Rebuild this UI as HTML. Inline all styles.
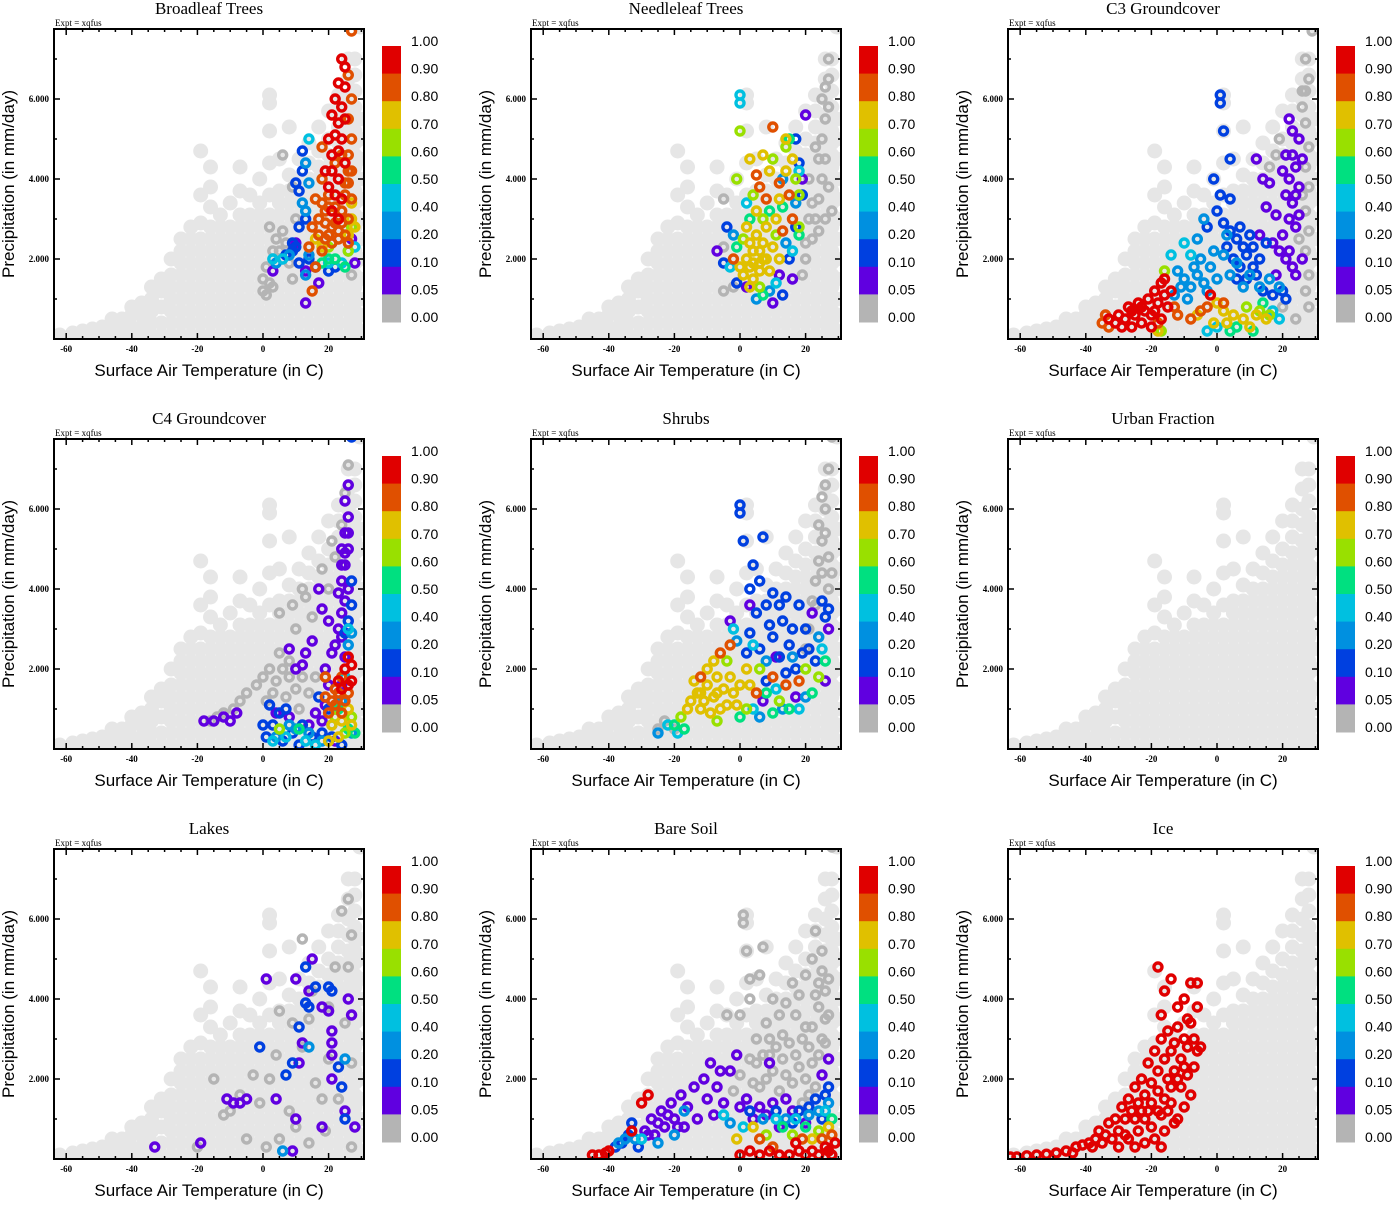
<!DOCTYPE html>
<html><head><meta charset="utf-8"><style>
html,body{margin:0;padding:0;background:#fff;}
svg text{font-family:"Liberation Sans",sans-serif;}
.serif{font-family:"Liberation Serif",serif;}
</style></head><body>
<svg id="chart" width="1393" height="1200" viewBox="0 0 1393 1200" xmlns="http://www.w3.org/2000/svg"></svg>
<script>
// ---- data ----
const panelTitles = ["Broadleaf Trees","Needleleaf Trees","C3 Groundcover","C4 Groundcover","Shrubs","Urban Fraction","Lakes","Bare Soil","Ice"];
const xTicks = [-60,-40,-20,0,20];
const xTickLabels = ["-60","-40","-20","0","20"];
const yTicks = [2,4,6];
const yTickLabels = ["2.000","4.000","6.000"];
const cbLabels = ["1.00","0.90","0.80","0.70","0.60","0.50","0.40","0.20","0.10","0.05","0.00"];
const cbThresholds = [0.9,0.8,0.7,0.6,0.5,0.4,0.2,0.1,0.05,0];
const cbColors = ["#e00000","#e05000","#e0c000","#99e000","#00e080","#00c0e0","#0090e0","#0040e0","#6000e0","#b4b4b4"];
// background cloud: temperature columns and precipitation values
const bgT = [-62,-58,-55,-52,-49,-46,-43,-40,-37,-34,-31,-28,-25,-22,-19,-16,-13,-10,-7,-4,-1,2,5,8,11,14,17,20,23,26,28,29.5];
const bgP = [
[0.05,0.1],[0.05,0.15],[0.1,0.2],[0.1,0.25],[0.1,0.3],[0.1,0.3,0.5],[0.1,0.3,0.5],[0.1,0.3,0.6,0.8],
[0.1,0.3,0.6,0.9],[0.1,0.4,0.7,1.0,1.3],[0.1,0.4,0.8,1.2,1.5],[0.1,0.4,0.7,1.0,1.3,1.6,2.0],
[0.1,0.4,0.7,1.0,1.3,1.6,1.9,2.2,2.5],[0.1,0.4,0.7,1.0,1.3,1.6,1.9,2.2,2.5,2.8],
[0.1,0.4,0.7,1.0,1.3,1.6,1.9,2.2,2.5,2.9,3.6,4.7],[0.1,0.4,0.7,1.0,1.3,1.6,1.9,2.2,2.5,2.8,3.3,3.8,4.3],
[0.1,0.4,0.7,1.0,1.3,1.6,1.9,2.2,2.5,2.8,3.1],[0.1,0.4,0.7,1.0,1.3,1.6,1.9,2.2,2.5,2.8,3.4],
[0.1,0.4,0.7,1.0,1.3,1.6,1.9,2.2,2.5,2.8,3.1,3.7,4.3],[0.1,0.4,0.7,1.0,1.3,1.6,1.9,2.2,2.5,2.8,3.1,3.6],
[0.1,0.4,0.7,1.0,1.3,1.6,1.9,2.2,2.5,2.8,3.1,3.4,4.0],[0.1,0.4,0.7,1.0,1.3,1.6,1.9,2.2,2.5,2.8,3.1,3.6,4.4,5.2,5.9,6.1],
[0.1,0.4,0.7,1.0,1.3,1.6,1.9,2.2,2.5,2.8,3.1,3.4,3.7,4.5],[0.1,0.4,0.7,1.0,1.3,1.6,1.9,2.2,2.5,2.8,3.1,3.4,3.7,4.1,5.3],
[0.1,0.4,0.7,1.0,1.3,1.6,1.9,2.2,2.5,2.8,3.1,3.4,3.7,4.0,4.5],[0.1,0.4,0.7,1.0,1.3,1.6,1.9,2.2,2.5,2.8,3.1,3.4,3.7,4.0,4.4,4.9],
[0.1,0.4,0.7,1.0,1.3,1.6,1.9,2.2,2.5,2.8,3.1,3.4,3.7,4.0,4.3,4.7,5.3],[0.1,0.4,0.7,1.0,1.3,1.6,1.9,2.2,2.5,2.8,3.1,3.4,3.7,4.0,4.3,4.6,5.0,5.7],
[0.1,0.4,0.7,1.0,1.3,1.6,1.9,2.2,2.5,2.8,3.1,3.4,3.7,4.0,4.3,4.6,4.9,5.3,5.7,6.1],[0.1,0.4,0.7,1.0,1.3,1.6,1.9,2.2,2.5,2.8,3.1,3.4,3.7,4.0,4.3,4.6,4.9,5.2,5.6,6.0,6.5,7.0],
[0.1,0.4,0.7,1.0,1.3,1.6,1.9,2.2,2.5,2.8,3.1,3.4,3.7,4.0,4.3,4.6,4.9,5.2,5.5,5.8,6.2,6.6,7.0],[0.2,0.6,1.0,1.5,2.0,2.5,3.0,3.5,4.0,4.5,5.0,5.5,7.8]
];
// panel points: [temperature, precipitation, fraction]
const broadleafPts = [
[24,7.0,.95],[25,6.8,.95],[23,6.4,.95],[25,6.3,.95],[22,6.0,.95],[24,5.8,.95],[21,5.6,.95],[23,5.4,.95],[25,5.5,.95],[20,5.0,.95],[22,5.1,.95],[24,5.0,.95],[21,4.6,.95],[23,4.7,.95],[25,4.4,.95],[19,4.2,.95],[21,4.2,.95],[23,4.0,.95],[20,3.8,.95],[22,3.6,.95],[24,3.5,.95],[21,3.2,.95],[23,3.0,.95],
[27,7.7,.85],[26,6.6,.85],[27,6.0,.85],[26,5.5,.85],[27,5.0,.85],[26,4.6,.85],[27,4.2,.85],[18,4.8,.85],[26,3.9,.85],[25,3.6,.85],[27,3.5,.85],[16,3.5,.85],[18,3.4,.85],[20,3.3,.85],[24,3.2,.85],[26,3.0,.85],[17,3.0,.85],[19,2.9,.85],[21,2.8,.85],[23,2.7,.85],[25,2.6,.85],[15,2.8,.85],[17,2.6,.85],[19,2.5,.85],[21,2.4,.85],[23,2.5,.85],[14,2.3,.85],[18,2.2,.85],[16,1.8,.85],[15,1.2,.85],[26,2.4,.85],[20,3.6,.85],[22,4.4,.85],[18,4.0,.85],[24,4.6,.85],[26,4.2,.85],[25,3.9,.85],[20,2.6,.85],[22,2.9,.85],[19,3.2,.85],[22,3.3,.85],[24,2.9,.85],
[27,3.4,.75],[27,3.0,.75],[28,2.8,.75],[26,2.6,.75],[16,2.5,.75],[18,2.3,.75],
[27,2.8,.65],[26,2.2,.65],[20,2.3,.65],
[22,2.0,.55],[18,1.9,.55],[25,1.8,.55],[20,2.0,.55],
[14,5.0,.45],[28,2.3,.45],[26,2.2,.45],[20,1.9,.45],[24,1.9,.45],[6,2.0,.45],[3,2.0,.45],
[13,4.4,.3],[14,3.9,.3],[12,3.4,.3],[13,3.2,.3],[14,2.1,.3],[13,1.6,.3],[4,1.9,.3],[8,2.1,.3],
[12,4.7,.15],[12,4.2,.15],[10,3.9,.15],[11,3.7,.15],[13,3.0,.15],[11,2.8,.15],[9,2.4,.15],[10,2.3,.15],[7,2.1,.15],[11,1.9,.15],[9,2.2,.15],[14,2.0,.15],[20,1.7,.15],[22,1.8,.15],[16,1.8,.15],
[13,0.9,.07],[3,1.7,.07],[10,2.4,.07],[13,1.7,.07],[17,1.4,.07],[28,1.9,.07],[27,2.5,.07],
[2,2.8,0],[3,2.2,0],[1,1.8,0],[0,1.5,0],[2,1.4,0],[0,1.2,0],[1,1.1,0],[3,1.3,0],[4,2.5,0],[5,2.2,0],[6,2.7,0],[7,2.4,0],[8,1.9,0],[9,1.5,0],[10,3.0,0],[9,3.8,0],[6,4.6,0],[27,1.6,0]
];
const needleleafPts = [
[20,2.0,0],[22,2.5,0],[23,3.0,0],[24,3.5,0],[25,4.0,0],[24,4.5,0],[25,5.0,0],[26,5.5,0],[25,6.0,0],[27,6.5,0],[27,7.0,0],[26,6.3,0],[22,3.4,0],[21,4.0,0],[23,4.8,0],[26,4.5,0],[27,3.8,0],[28,3.2,0],[26,3.0,0],[24,2.7,0],[21,3.0,0],[20,2.4,0],[19,1.6,0],[-2,1.3,0],[-5,1.2,0],[27,5.8,0],[-5,3.5,0],[-5,2.3,0],
[0,1.8,.75],[2,2.0,.75],[4,1.9,.75],[6,2.2,.75],[8,2.0,.75],[3,2.4,.75],[5,2.6,.75],[7,2.4,.75],[1,1.6,.75],[4,1.5,.75],[6,1.7,.75],[9,1.7,.75],[10,2.3,.75],[2,2.8,.75],[8,2.8,.75],[11,3.0,.75],[12,3.5,.75],[5,3.2,.75],[14,4.2,.75],[9,4.2,.75],[16,4.5,.75],[12,2.0,.75],[3,1.3,.75],[4,2.2,.75],[6,1.9,.75],[7,2.0,.75],[3,1.8,.75],[14,5.0,.75],[7,4.6,.75],[3,4.5,.75],
[10,5.3,.85],[6,3.8,.85],[12,3.9,.85],[15,3.6,.85],[8,3.5,.85],[13,2.7,.85],[16,3.0,.85],[-2,2.0,.85],[5,4.1,.85],
[10,4.5,.65],[14,4.8,.65],[4,3.6,.65],[7,3.0,.65],[17,4.0,.65],[11,2.6,.65],[1,2.5,.65],[6,1.3,.65],[0,5.2,.65],[-1,4.0,.65],[18,2.8,.65],[18,3.6,.65],
[15,5.0,.55],[3,3.0,.55],[9,3.2,.55],[13,3.3,.55],[-1,2.3,.55],[18,2.6,.55],[7,1.1,.55],
[0,6.1,.45],[0,5.9,.45],[18,4.2,.45],[2,3.4,.45],[16,2.2,.45],[-3,1.8,.45],[11,1.4,.45],
[13,4.0,.3],[17,3.4,.3],[-2,2.6,.3],[14,2.4,.3],[5,1.0,.3],[9,1.2,.3],
[17,5.0,.15],[18,4.4,.15],[19,3.6,.15],[17,2.8,.15],[15,2.0,.15],[-1,1.4,.15],[13,1.1,.15],[-5,1.9,.15],[-4,2.8,.15],
[20,5.6,.07],[19,4.0,.07],[16,1.5,.07],[10,0.9,.07],[2,1.3,.07],[12,1.6,.07],[-7,2.2,.07]
];
const c3Pts = [
[27,7.0,0],[28,6.5,0],[27,6.2,0],[26,5.8,0],[27,5.4,0],[28,4.8,0],[27,4.3,0],[28,3.8,0],[27,3.2,0],[28,2.7,0],[27,2.2,0],[28,1.6,0],[27,1.2,0],[28,0.8,0],[24,0.5,0],[20,0.8,0],[16,4.3,0],[18,4.6,0],[19,5.0,0],[26,6.2,0],[29,7.7,0],[26,3.6,0],[25,2.5,0],
[-33,0.5,.95],[-31,0.4,.95],[-30,0.6,.95],[-28,0.5,.95],[-27,0.8,.95],[-25,0.6,.95],[-24,0.9,.95],[-22,0.7,.95],[-21,1.0,.95],[-20,0.6,.95],[-19,1.2,.95],[-18,0.9,.95],[-17,1.4,.95],[-16,1.1,.95],[-15,0.8,.95],[-29,0.3,.95],[-26,0.3,.95],[-23,0.4,.95],[-20,0.3,.95],[-17,0.5,.95],[-14,1.2,.95],[-16,1.5,.95],[-2,1.1,.95],[-23,0.8,.95],[-19,0.7,.95],[-26,0.7,.95],
[-35,0.4,.85],[-33,0.3,.85],[-34,0.6,.85],[-13,0.8,.85],[-12,0.6,.85],[-5,0.7,.85],[-3,0.8,.85],[-8,0.5,.85],[2,0.9,.85],[-18,0.4,.85],
[-18,0.2,.75],[-6,0.6,.75],[0,0.9,.75],[2,0.7,.75],[5,0.6,.75],[-1,0.4,.75],[3,0.4,.75],[8,0.5,.75],[12,0.6,.75],[15,0.5,.75],[10,0.3,.75],
[-16,1.7,.65],[-17,0.2,.65],[9,0.8,.65],[13,0.7,.65],[16,0.6,.65],
[6,0.3,.55],[11,0.2,.55],[14,0.9,.55],[4,0.2,.55],
[-14,2.1,.45],[-10,2.4,.45],[-8,2.1,.45],[0,0.3,.45],[-3,0.2,.45],[17,0.7,.45],[19,0.5,.45],
[-12,1.7,.3],[-10,1.5,.3],[-8,1.3,.3],[-6,1.6,.3],[-4,1.4,.3],[-2,1.8,.3],[0,1.5,.3],[-13,1.1,.3],[-9,1.0,.3],[-7,1.8,.3],[-5,2.0,.3],[-11,1.3,.3],[2,2.1,.3],[4,1.6,.3],[6,1.9,.3],[8,1.3,.3],[10,1.6,.3],[-3,1.2,.3],[13,1.3,.3],[-6,2.5,.3],[3,2.6,.3],[-4,3.0,.3],[16,1.5,.3],[19,1.3,.3],[-1,2.2,.3],
[1,6.1,.15],[1,5.9,.15],[2,5.2,.15],[4,4.5,.15],[-1,4.0,.15],[1,3.6,.15],[4,3.5,.15],[0,3.2,.15],[-3,2.8,.15],[2,2.9,.15],[4,2.7,.15],[6,2.5,.15],[8,2.3,.15],[3,2.3,.15],[5,2.0,.15],[7,1.8,.15],[9,2.1,.15],[11,2.3,.15],[13,2.0,.15],[10,2.6,.15],[12,1.6,.15],[14,1.2,.15],[7,2.8,.15],[9,1.5,.15],[17,1.1,.15],[20,1.2,.15],[15,2.4,.15],[21,1.0,.15],[6,1.5,.15],[11,1.8,.15],
[22,5.5,.07],[23,5.2,.07],[21,4.6,.07],[20,4.2,.07],[22,4.0,.07],[24,4.3,.07],[25,3.8,.07],[21,3.6,.07],[23,3.4,.07],[25,3.1,.07],[22,3.0,.07],[24,2.8,.07],[20,2.6,.07],[18,3.1,.07],[16,3.9,.07],[14,4.0,.07],[12,4.5,.07],[15,3.3,.07],[13,2.6,.07],[17,2.4,.07],[19,2.2,.07],[21,2.0,.07],[23,1.8,.07],[18,1.6,.07],[24,1.6,.07],[26,2.0,.07],[26,4.5,.07],[25,5.0,.07],[22,2.2,.07],[23,4.6,.07],[24,3.6,.07]
];
const c4Pts = [
[0,1.8,0],[-2,1.6,0],[-5,1.4,0],[-7,1.2,0],[-9,1.0,0],[-12,0.9,0],[-14,0.8,0],[-16,0.7,0],[2,2.0,0],[4,1.7,0],[6,2.0,0],[8,1.8,0],[10,1.5,0],[12,1.8,0],[14,1.4,0],[16,1.8,0],[3,1.4,0],[7,1.3,0],[11,1.0,0],[5,3.4,0],[9,3.6,0],[10,3.0,0],[13,3.8,0],[15,3.3,0],[12,4.0,0],[18,4.5,0],[20,4.0,0],[22,4.8,0],[21,5.2,0],[24,5.6,0],[26,7.1,0],[25,6.4,0],[5,2.4,0],[1,1.2,0],[8,2.2,0],
[26,6.6,.07],[25,6.2,.07],[26,5.8,.07],[25,5.4,.07],[24,5.0,.07],[25,4.6,.07],[24,4.2,.07],[23,3.9,.07],[25,3.7,.07],[24,3.4,.07],[23,3.0,.07],[22,2.6,.07],[21,2.4,.07],[24,2.8,.07],[26,4.0,.07],[20,3.2,.07],[18,3.5,.07],[17,4.0,.07],[15,2.7,.07],[13,2.4,.07],[10,2.0,.07],[8,2.5,.07],[12,2.1,.07],[19,2.0,.07],[20,1.6,.07],[19,1.1,.07],[16,0.9,.07],[14,0.6,.07],[18,0.7,.07],[-18,0.7,.07],[-15,0.7,.07],[-12,0.8,.07],[-10,0.7,.07],[-8,0.9,.07],[4,0.9,.07],[8,0.8,.07],[22,0.2,.07],[25,2.3,.07],[26,5.0,.07],[24,1.6,.07],[25,4.9,.07],[24,4.6,.07],[26,5.4,.07],
[27,7.8,.15],[27,4.2,.15],[27,3.6,.15],[26,3.2,.15],[25,2.9,.15],[2,1.1,.15],[3,0.6,.15],[5,0.9,.15],[7,1.0,.15],[0,0.6,.15],[9,0.4,.15],[12,0.6,.15],[15,0.3,.15],[18,0.4,.15],[21,0.3,.15],[24,0.1,.15],[1,0.3,.15],[6,0.2,.15],[11,0.1,.15],[17,1.3,.15],[20,1.0,.15],
[27,2.9,.3],[26,2.6,.3],[24,1.2,.3],[22,1.0,.3],[10,0.5,.3],[14,0.4,.3],[18,0.2,.3],[27,0.4,.3],[4,0.3,.3],[8,0.6,.3],
[26,3.0,.45],[25,1.8,.45],[3,0.2,.45],[7,0.3,.45],[13,0.2,.45],[16,0.1,.45],[21,0.6,.45],
[23,1.0,.55],[26,0.5,.55],[28,0.4,.55],[11,0.5,.55],
[5,0.5,.65],[22,0.8,.65],[27,0.8,.65],[25,0.4,.65],
[21,0.6,.75],[24,0.7,.75],[26,1.0,.75],[27,0.6,.75],[23,0.3,.75],[20,0.2,.75],
[19,1.3,.85],[21,1.2,.85],[23,1.4,.85],[25,1.2,.85],[20,0.9,.85],[22,1.1,.85],[24,0.9,.85],[26,1.4,.85],[24,1.8,.85],[22,1.5,.85],[19,1.8,.85],
[26,2.3,.95],[27,2.1,.95],[25,2.0,.95],[26,1.6,.95],[24,1.5,.95],[23,1.7,.95],[27,1.7,.95]
];
const shrubPts = [
[-25,0.5,0],[-23,0.7,0],[-20,0.5,0],[20,2.5,0],[21,3.0,0],[22,3.7,0],[23,4.2,0],[24,4.7,0],[25,5.2,0],[24,5.6,0],[26,6.0,0],[26,6.6,0],[27,7.0,0],[25,4.4,0],[27,4.8,0],[27,4.0,0],[28,4.4,0],[23,3.6,0],[24,2.8,0],[28,7.8,0],[25,6.3,0],[26,5.4,0],
[-15,1.2,.75],[-13,1.4,.75],[-11,1.2,.75],[-10,1.6,.75],[-8,1.3,.75],[-7,1.8,.75],[-5,1.5,.75],[-4,1.1,.75],[-2,1.4,.75],[-12,1.0,.75],[-9,0.9,.75],[-6,1.0,.75],[-3,1.8,.75],[0,1.6,.75],[-14,1.7,.75],[-10,2.0,.75],[-1,1.1,.75],[3,1.6,.75],[-16,1.0,.75],[-8,2.2,.75],[2,2.0,.75],[-12,1.4,.75],[-7,1.4,.75],
[-12,1.8,.85],[-6,2.4,.85],[5,1.4,.85],[10,1.8,.85],[-3,2.6,.85],[14,1.6,.85],[18,1.7,.85],
[-18,0.8,.65],[-7,0.7,.65],[2,1.0,.65],[6,2.0,.65],[12,1.2,.65],[20,2.0,.65],[24,1.8,.65],[-4,2.2,.65],
[-20,0.6,.55],[-17,0.5,.55],[0,0.8,.55],[8,1.4,.55],[15,1.0,.55],[22,1.4,.55],[26,2.2,.55],[10,0.9,.55],
[-22,0.6,.45],[-19,0.4,.45],[4,1.0,.45],[11,1.5,.45],[18,1.0,.45],[25,2.5,.45],[-2,3.0,.45],[4,2.6,.45],
[-25,0.4,.3],[6,0.8,.3],[13,1.0,.3],[20,1.3,.3],[24,2.8,.3],[8,2.2,.3],[16,2.3,.3],[-1,2.7,.3],
[0,6.1,.15],[0,5.9,.15],[1,5.2,.15],[7,5.3,.15],[4,4.6,.15],[3,4.0,.15],[6,4.2,.15],[8,3.6,.15],[10,3.9,.15],[12,3.6,.15],[14,3.8,.15],[5,3.4,.15],[9,3.1,.15],[13,3.2,.15],[16,3.0,.15],[18,3.6,.15],[20,3.0,.15],[3,2.9,.15],[6,2.5,.15],[10,2.8,.15],[12,2.3,.15],[15,2.6,.15],[17,2.0,.15],[19,2.4,.15],[21,2.5,.15],[23,2.2,.15],[26,3.3,.15],[25,3.7,.15],[27,3.5,.15],[2,2.4,.15],[8,1.7,.15],[14,1.9,.15],
[3,3.6,.07],[27,3.0,.07],[22,3.4,.07],[11,2.3,.07],[7,1.2,.07],[17,1.3,.07],[26,1.7,.07],[-3,3.2,.07]
];
const urbanPts = [];
const lakePts = [
[-15,2.0,0],[-10,1.2,0],[-7,1.6,0],[-3,2.1,0],[-1,1.4,0],[2,2.0,0],[4,2.6,0],[5,3.7,0],[9,3.4,0],[12,2.8,0],[14,3.5,0],[16,1.9,0],[18,1.5,0],[20,2.5,0],[22,4.8,0],[24,6.2,0],[26,6.5,0],[27,5.6,0],[26,4.8,0],[25,3.4,0],[27,2.4,0],[23,1.5,0],[1,0.3,0],[5,0.5,0],[10,0.8,0],[14,0.4,0],[19,0.7,0],[27,0.3,0],[-5,0.5,0],[12,5.5,0],[15,4.2,0],[-20,0.3,0],[-12,1.1,0],[8,1.2,0],[20,3.8,0],
[15,5.0,.07],[10,4.5,.07],[14,4.2,.07],[18,3.8,.07],[20,3.7,.07],[26,4.0,.07],[27,3.6,.07],[12,2.9,.07],[21,3.2,.07],[21,2.9,.07],[11,2.4,.07],[21,2.6,.07],[21,2.0,.07],[-9,1.4,.07],[-7,1.4,.07],[-5,1.5,.07],[-11,1.5,.07],[-33,0.3,.07],[-19,0.4,.07],[9,0.2,.07],[4,1.5,.07],[10,1.0,.07],[18,0.8,.07],[25,1.2,.07],[28,0.8,.07],[1,4.5,.07],
[13,4.8,.15],[16,4.3,.15],[20,4.3,.15],[21,4.2,.15],[13,3.9,.15],[14,3.8,.15],[-1,2.8,.15],[11,3.3,.15],[9,2.4,.15],[7,2.1,.15],[23,2.3,.15],[24,1.8,.15],[25,1.0,.15],
[14,2.8,.3],[25,2.5,.3],[6,0.2,.3]
];
const bareSoilPts = [
[1,6.1,0],[1,5.9,0],[2,5.2,0],[7,5.3,0],[3,4.5,0],[6,4.6,0],[-4,3.6,0],[0,3.6,0],[3,4.0,0],[5,3.0,0],[8,3.4,0],[10,4.0,0],[12,3.6,0],[14,3.9,0],[16,4.4,0],[18,4.1,0],[20,4.6,0],[22,5.0,0],[23,5.7,0],[25,5.2,0],[24,4.4,0],[26,4.2,0],[27,3.6,0],[25,3.0,0],[22,3.3,0],[19,3.0,0],[17,2.6,0],[15,2.9,0],[13,2.5,0],[11,2.8,0],[9,3.0,0],[7,2.6,0],[5,2.4,0],[3,2.5,0],[4,1.9,0],[6,1.8,0],[8,2.0,0],[10,2.2,0],[12,1.7,0],[14,2.1,0],[16,1.9,0],[18,2.3,0],[20,2.0,0],[22,2.4,0],[24,2.6,0],[26,2.9,0],[21,1.6,0],[23,1.8,0],[19,1.4,0],[0,2.1,0],[-2,1.7,0],[27,4.5,0],[24,3.8,0],[28,7.8,0],[20,3.3,0],[17,3.6,0],[13,3.1,0],[9,2.6,0],[23,4.1,0],[25,4.7,0],[26,3.5,0],[21,2.8,0],
[-45,0.1,.95],[-43,0.1,.95],[-41,0.15,.95],[-40,0.2,.95],[-30,1.4,.95],[-28,1.6,.95],[-33,0.7,.95],[0,0.1,.95],[3,0.2,.95],[6,0.1,.95],[9,0.2,.95],[12,0.1,.95],[15,0.1,.95],[18,0.2,.95],[20,0.1,.95],[22,0.2,.95],[24,0.1,.95],[26,0.3,.95],[28,0.1,.95],[29,0.4,.95],[27,0.2,.95],[17,0.4,.95],
[6,0.5,.85],[28,0.6,.85],[10,0.3,.85],[19,0.5,.85],[25,0.5,.85],
[-1,0.5,.75],[4,0.8,.75],[27,0.8,.75],[22,0.5,.75],
[8,0.6,.65],[16,0.6,.65],[24,0.7,.65],
[13,0.8,.55],[28,1.0,.55],[20,0.8,.55],
[-5,1.1,.45],[1,0.8,.45],[11,1.0,.45],[17,1.0,.45],[26,1.2,.45],[-30,0.5,.45],
[-37,0.4,.3],[-35,0.5,.3],[-32,0.5,.3],[-25,0.4,.3],[-20,0.6,.3],[-3,0.9,.3],[7,1.0,.3],[21,1.1,.3],[24,1.2,.3],[27,1.4,.3],[14,1.0,.3],[-17,1.2,.3],
[-38,0.3,.15],[-36,0.4,.15],[-34,0.6,.15],[-31,0.3,.15],[-33,0.9,.15],[18,1.2,.15],[21,1.3,.15],[23,1.5,.15],[26,1.6,.15],[27,1.8,.15],[16,0.9,.15],[11,1.2,.15],[3,1.2,.15],[25,1.0,.15],
[-29,0.7,.07],[-27,1.0,.07],[-26,0.6,.07],[-24,1.2,.07],[-23,0.8,.07],[-21,1.4,.07],[-20,1.0,.07],[-18,1.6,.07],[-17,0.8,.07],[-16,1.3,.07],[-14,1.8,.07],[-13,1.0,.07],[-11,2.0,.07],[-10,1.5,.07],[-9,2.4,.07],[-8,1.1,.07],[-7,1.8,.07],[-5,1.4,.07],[-3,2.2,.07],[-1,2.6,.07],[0,1.3,.07],[2,1.5,.07],[4,1.0,.07],[6,1.3,.07],[8,1.1,.07],[10,1.4,.07],[12,0.8,.07],[14,1.5,.07],[16,1.2,.07],[20,0.9,.07],[25,2.1,.07],[27,2.5,.07],[-25,0.9,.07],[-22,1.1,.07],[-6,2.2,.07],[9,2.4,.07],[-28,0.6,.07],[-19,0.8,.07]
];
const icePts = [
[-63,0.05,.95],[-61,0.05,.95],[-58,0.08,.95],[-55,0.1,.95],[-52,0.12,.95],[-49,0.15,.95],[-46,0.2,.95],[-43,0.3,.95],[-41,0.35,.95],[-39,0.4,.95],[-37,0.5,.95],[-36,0.7,.95],[-34,0.6,.95],[-33,0.9,.95],[-31,1.0,.95],[-30,0.7,.95],[-29,1.3,.95],[-28,1.0,.95],[-27,1.5,.95],[-26,1.2,.95],[-25,1.8,.95],[-24,1.4,.95],[-23,2.0,.95],[-22,1.6,.95],[-21,2.4,.95],[-20,1.9,.95],[-19,2.7,.95],[-18,2.2,.95],[-17,3.0,.95],[-16,2.5,.95],[-15,3.2,.95],[-14,2.7,.95],[-13,2.9,.95],[-12,3.3,.95],[-11,2.5,.95],[-10,3.0,.95],[-9,2.8,.95],[-8,3.4,.95],[-7,3.0,.95],[-6,3.8,.95],[-5,2.8,.95],[-18,4.8,.95],[-16,4.2,.95],[-14,4.5,.95],[-8,4.4,.95],[-6,4.4,.95],[-10,4.0,.95],[-12,3.8,.95],[-22,1.0,.95],[-20,1.4,.95],[-18,1.7,.95],[-25,1.0,.95],[-15,2.0,.95],[-13,2.2,.95],[-17,3.6,.95],[-9,3.5,.95],[-35,0.4,.95],[-28,0.6,.95],[-23,1.2,.95],
[-32,0.5,.95],[-30,0.3,.95],[-27,0.5,.95],[-25,0.3,.95],[-24,0.7,.95],[-22,0.4,.95],[-20,0.8,.95],[-19,0.5,.95],[-17,1.1,.95],[-16,0.7,.95],[-14,1.4,.95],[-12,1.0,.95],[-11,1.8,.95],[-10,1.3,.95],[-9,2.1,.95],[-8,1.6,.95],[-7,2.3,.95],[-12,2.0,.95],[-14,1.8,.95],[-16,1.5,.95],[-18,1.2,.95],[-21,1.2,.95],[-10,2.3,.95],[-6,2.7,.95],[-15,1.2,.95],[-13,0.9,.95],[-17,0.3,.95],[-38,0.3,.95],[-44,0.15,.95]
];
const panelPoints = [broadleafPts,needleleafPts,c3Pts,c4Pts,shrubPts,urbanPts,lakePts,bareSoilPts,icePts];

// ---- drawing ----
const NS = "http://www.w3.org/2000/svg";
const svg = document.getElementById('chart');
const PL=54, PR=364, PT=29, PB=339;
function xScale(t){ return 263 + t*3.28; }
function yScale(p){ return 339 - p*40; }
function colorFor(v){ for(let i=0;i<cbThresholds.length;i++){ if(v>=cbThresholds[i]) return cbColors[i]; } return cbColors[cbColors.length-1]; }
function mk(tag, attrs, parent){ const e=document.createElementNS(NS,tag); for(const k in attrs) e.setAttribute(k,attrs[k]); parent.appendChild(e); return e; }

panelTitles.forEach((title, idx) => {
  const ox = [0,477,954][idx%3], oy = [0,410,820][Math.floor(idx/3)];
  const g = mk('g',{transform:`translate(${ox},${oy})`},svg);
  
  
  const t = mk('text',{x:209,y:14,'text-anchor':'middle','font-size':17,class:'serif'},g);
  t.textContent = title;
  
  
  const ex = mk('text',{x:55,y:26,'font-size':9,class:'serif'},g);
  ex.textContent = 'Expt = xqfus';
  
  
  const cid = 'clip'+idx;
  const cp = mk('clipPath',{id:cid},g);
  mk('rect',{x:PL,y:PT,width:PR-PL,height:PB-PT},cp);
  const pts = mk('g',{'clip-path':`url(#${cid})`},g);
  
  
  bgT.forEach((tt,i)=>{ bgP[i].forEach(p=>{
    const c = mk('circle',{cx:xScale(tt),cy:yScale(p),r:7.5,fill:'#e6e6e6'},pts);
    
    
  });});
  const arr = panelPoints[idx].slice().sort((a,b)=>a[2]-b[2]);
  arr.forEach(d=>{
    const col = colorFor(d[2]);
    const c = mk('circle',{cx:xScale(d[0]),cy:yScale(d[1]),r:4,fill:'none',stroke:col,'stroke-width':3.4},pts);
    
    
  });
  const fr = mk('rect',{x:PL,y:PT,width:PR-PL,height:PB-PT,fill:'none',stroke:'#000','stroke-width':2},g);
  
  
  for(let v=-60; v<=30; v+=5){
    const x = xScale(v); if(x<PL||x>PR) continue;
    const L = (v%20===0)?6:3;
    mk('line',{x1:x,x2:x,y1:PB,y2:PB-L,stroke:'#000','stroke-width':1.5},g);
    mk('line',{x1:x,x2:x,y1:PT,y2:PT+L,stroke:'#000','stroke-width':1.5},g);
  }
  xTicks.forEach((v,i)=>{
    const tl = mk('text',{x:xScale(v),y:352,'text-anchor':'middle','font-size':9,'font-weight':'bold',class:'serif'},g);
    tl.textContent = xTickLabels[i];
    
    
  });
  for(let v=1; v<=7; v+=1){
    const y = yScale(v);
    const L = (v%2===0)?6:3;
    mk('line',{x1:PL,x2:PL+L,y1:y,y2:y,stroke:'#000','stroke-width':1.5},g);
    mk('line',{x1:PR,x2:PR-L,y1:y,y2:y,stroke:'#000','stroke-width':1.5},g);
  }
  yTicks.forEach((v,i)=>{
    const tl = mk('text',{x:49,y:yScale(v)+3,'text-anchor':'end','font-size':9,'font-weight':'bold',class:'serif'},g);
    tl.textContent = yTickLabels[i];
    
    
  });
  const xl = mk('text',{x:209,y:376,'text-anchor':'middle','font-size':17},g);
  xl.textContent = 'Surface Air Temperature (in C)';
  
  
  const yl = mk('text',{x:0,y:0,'text-anchor':'middle','font-size':17,transform:'translate(14,184) rotate(-90)'},g);
  yl.textContent = 'Precipitation (in mm/day)';
  
  
  const cb = mk('g',{},g);
  
  
  const bh = 27.6;
  cbColors.forEach((c,i)=>{
    const r = mk('rect',{x:382,y:46+i*bh,width:19,height:bh+0.5,fill:c},cb);
    
    
  });
  cbLabels.forEach((l,i)=>{
    const tl = mk('text',{x:411,y:46+i*bh,'font-size':14},cb);
    tl.textContent = l;
    
    
  });
});
</script>
</body></html>
